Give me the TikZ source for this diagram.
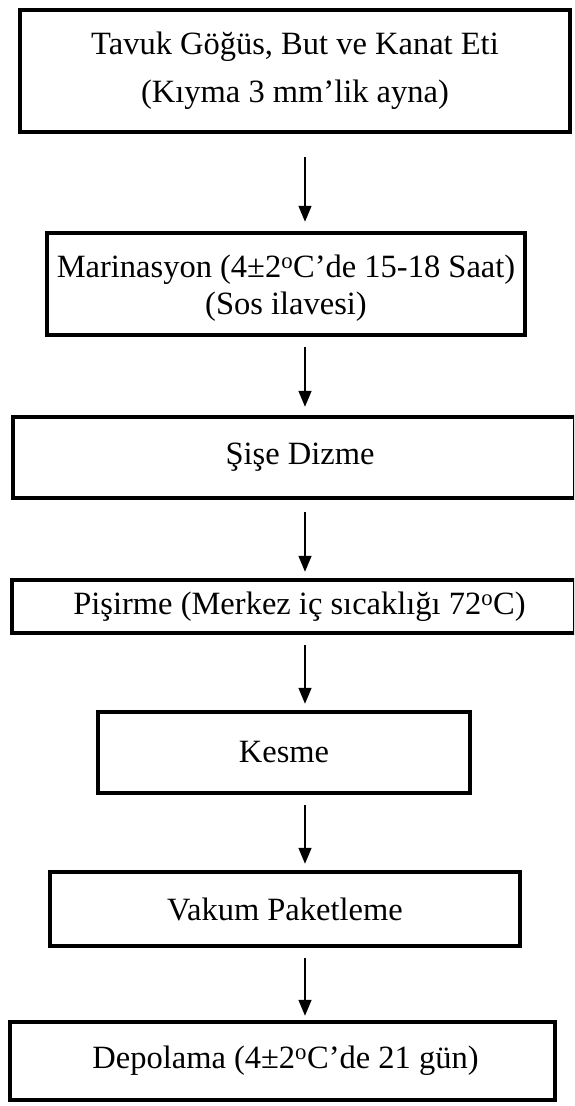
\documentclass[tikz,border=0pt]{standalone}
\usepackage{fontspec}
\setmainfont{Liberation Serif}
\usetikzlibrary{arrows.meta,calc}
\begin{document}
\begin{tikzpicture}[x=1pt,y=-1pt,
 box/.style={draw=black, line width=4.5pt, rectangle, inner sep=0pt, align=center,
   font=\fontsize{32.5}{37.5}\selectfont},
 arr/.style={line width=1.5pt, -{Triangle[length=16pt,width=13pt]}}]
\useasboundingbox (0,0) rectangle (574,1106);
\clip (0,0) rectangle (574,1106);
\coordinate (ax) at (305,0);
\node[box, font=\fontsize{32.5}{48}\selectfont, minimum width=550pt, minimum height=122pt] (b1) at (295,71)
  {Tavuk Göğüs, But ve Kanat Eti\\(Kıyma 3 mm’lik ayna)};
\node[box, minimum width=478pt, minimum height=102pt] (b2) at (286,284)
  {\raisebox{-4pt}[\height][\depth]{Marinasyon (4±2\textsuperscript{o}C’de 15-18 Saat)}\\
   \raisebox{-4pt}[\height][\depth]{(Sos ilavesi)}};
\node[box, minimum width=562pt, minimum height=81pt] (b3) at (294,457.5)
  {\hspace*{12pt}Şişe Dizme};
\node[box, minimum width=563pt, minimum height=53pt] (b4) at (293.5,606.5)
  {\hspace*{12pt}Pişirme (Merkez iç sıcaklığı 72\textsuperscript{o}C)};
\node[box, minimum width=372pt, minimum height=81pt] (b5) at (284,752.5)
  {Kesme};
\node[box, minimum width=470pt, minimum height=74pt] (b6) at (285,909)
  {Vakum Paketleme};
\node[box, minimum width=545pt, minimum height=78pt] (b7) at (282.5,1061)
  {\hspace*{6pt}Depolama (4±2\textsuperscript{o}C’de 21 gün)};
\draw[arr] ($(b1.south -| ax)+(0,23)$) -- ($(b2.north -| ax)+(0,-9)$);
\draw[arr] ($(b2.south -| ax)+(0,10)$) -- ($(b3.north -| ax)+(0,-8)$);
\draw[arr] ($(b3.south -| ax)+(0,12)$) -- ($(b4.north -| ax)+(0,-6)$);
\draw[arr] ($(b4.south -| ax)+(0,10)$) -- ($(b5.north -| ax)+(0,-6)$);
\draw[arr] ($(b5.south -| ax)+(0,10)$) -- ($(b6.north -| ax)+(0,-6)$);
\draw[arr] ($(b6.south -| ax)+(0,10)$) -- ($(b7.north -| ax)+(0,-4)$);
\end{tikzpicture}
\end{document}
